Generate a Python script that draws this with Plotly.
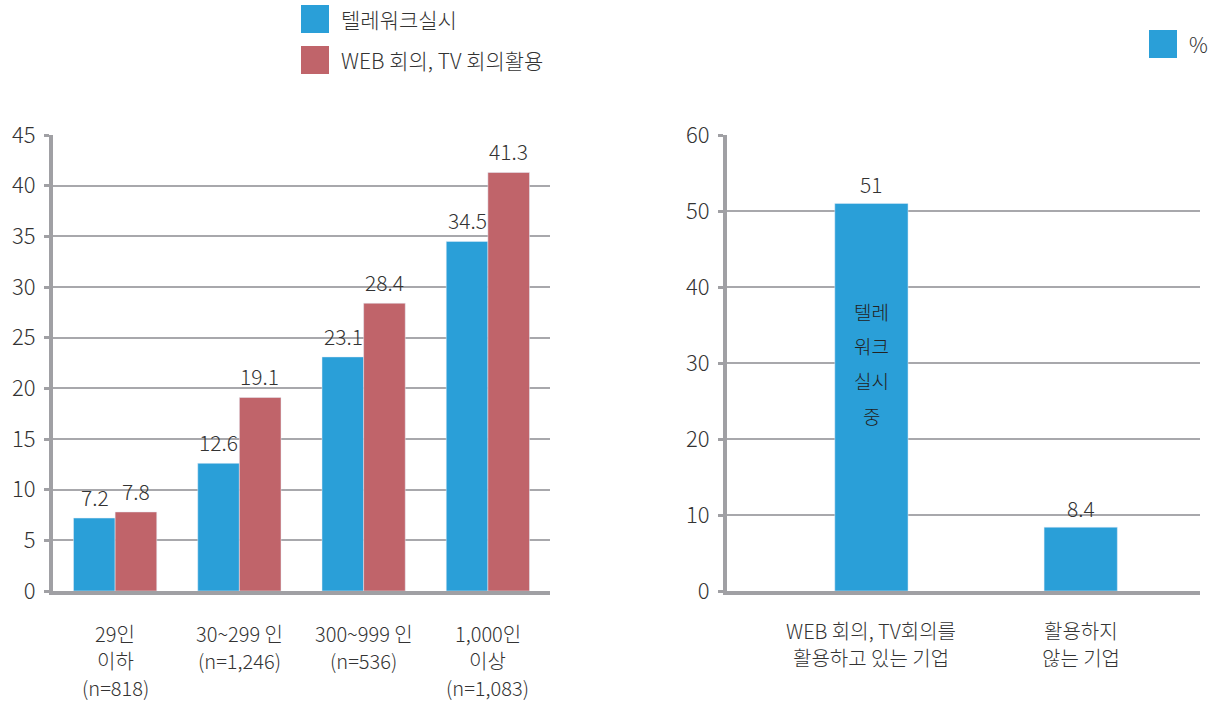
import plotly.graph_objects as go

# ---- data ----
size_groups = [["29인", "이하", "(n=818)"], ["30~299 인", "(n=1,246)"],
               ["300~999 인", "(n=536)"], ["1,000인", "이상", "(n=1,083)"]]
telework = [7.2, 12.6, 23.1, 34.5]
web_tv_meeting = [7.8, 19.1, 28.4, 41.3]

usage_groups = [["WEB 회의, TV회의를", "활용하고 있는 기업"], ["활용하지", "않는 기업"]]
telework_share = [51, 8.4]

left_ticks = [0, 5, 10, 15, 20, 25, 30, 35, 40, 45]
right_ticks = [0, 10, 20, 30, 40, 50, 60]

series_names = ["텔레워크실시", "WEB 회의, TV 회의활용"]
inner_label_lines = ["텔레", "워크", "실시", "중"]

BLUE = "#2A9FD8"
RED = "#C0646A"
GRID = "#A8A8AC"
AXIS = "#A0A0A4"
TEXT = "#333333"
FONT = "Noto Sans CJK KR"
WEIGHT = 300
W, H = 1220, 702

def tfont(size, color=TEXT):
    return dict(size=size, color=color, family=FONT, weight=WEIGHT)

fig = go.Figure()

cat_idx = list(range(len(size_groups)))
fig.add_trace(go.Bar(x=cat_idx, y=telework, marker_color=BLUE, name=series_names[0],
                     xaxis="x", yaxis="y", showlegend=False))
fig.add_trace(go.Bar(x=cat_idx, y=web_tv_meeting, marker_color=RED, name=series_names[1],
                     xaxis="x", yaxis="y", showlegend=False))

usage_idx = list(range(len(usage_groups)))
fig.add_trace(go.Bar(x=usage_idx, y=telework_share, marker_color=BLUE, width=0.35,
                     name="%", xaxis="x2", yaxis="y2", showlegend=False))

annotations = []
# value labels, left panel (grouped bars offset from the category centre)
for i in cat_idx:
    for off, vals in ((-0.165, telework), (0.165, web_tv_meeting)):
        annotations.append(dict(x=i + off, y=vals[i], xref="x", yref="y", text=f"{vals[i]}",
                                showarrow=False, yanchor="bottom", yshift=4,
                                font=tfont(21)))
# value labels, right panel
for i in usage_idx:
    annotations.append(dict(x=i, y=telework_share[i], xref="x2", yref="y2",
                            text=f"{telework_share[i]}", showarrow=False, yanchor="bottom",
                            yshift=2, font=tfont(21)))
# stacked caption inside the tall bar
for k, line in enumerate(inner_label_lines):
    annotations.append(dict(x=0, y=36.8 - 4.55 * k, xref="x2", yref="y2", text=line,
                            showarrow=False, font=tfont(19, "#222222")))

# category labels below each axis, one line per annotation (27px line pitch)
def category_labels(groups, xref, first_line_px):
    for i, lines in enumerate(groups):
        for k, line in enumerate(lines):
            annotations.append(dict(x=i, y=1 - (first_line_px + 27 * k) / H, xref=xref,
                                    yref="paper", text=line, showarrow=False,
                                    yanchor="middle", font=tfont(20)))

category_labels(size_groups, "x", 633)
category_labels(usage_groups, "x2", 630)

# legend swatches drawn as shapes with text beside them
shapes = []
legend_items = [(BLUE, series_names[0], 301, 5), (RED, series_names[1], 301, 46), (BLUE, "%", 1149, 30)]
for color, label, px, py in legend_items:
    shapes.append(dict(type="rect", xref="paper", yref="paper",
                       x0=px / W, x1=(px + 28) / W, y0=1 - (py + 28) / H, y1=1 - py / H,
                       fillcolor=color, line=dict(width=0)))
    annotations.append(dict(x=(px + 38) / W, y=1 - (py + 14) / H, xref="paper", yref="paper",
                            text=label, showarrow=False, xanchor="left", yanchor="middle",
                            font=tfont(21)))

axis_common = dict(showgrid=True, gridcolor=GRID, gridwidth=2, showline=True, linecolor=AXIS,
                   linewidth=4, ticks="outside", ticklen=5, tickwidth=3, tickcolor=AXIS,
                   zeroline=False, tickfont=tfont(22), ticklabelstandoff=4, automargin=False)

x_common = dict(showline=True, linecolor=AXIS, linewidth=4, ticks="", showgrid=False,
                showticklabels=False, automargin=False)

y_dom = [1 - 591 / H, 1 - 135 / H]

fig.update_layout(
    width=W, height=H, margin=dict(l=0, r=0, t=0, b=0, autoexpand=False),
    paper_bgcolor="white", plot_bgcolor="white",
    barmode="group", bargap=0.33, bargroupgap=0,
    showlegend=False,
    font=dict(family=FONT, color=TEXT),
    xaxis=dict(domain=[53 / W, 550 / W], range=[-0.5, 3.5], tickvals=cat_idx,
               anchor="y", **x_common),
    yaxis=dict(domain=y_dom, range=[0, 45], tickvals=left_ticks, anchor="x", **axis_common),
    xaxis2=dict(domain=[727 / W, 1200 / W], range=[-0.69, 1.57], tickvals=usage_idx,
                anchor="y2", **x_common),
    yaxis2=dict(domain=y_dom, range=[0, 60], tickvals=right_ticks, anchor="x2", **axis_common),
    annotations=annotations,
    shapes=shapes,
)

fig.write_html("out.html")
